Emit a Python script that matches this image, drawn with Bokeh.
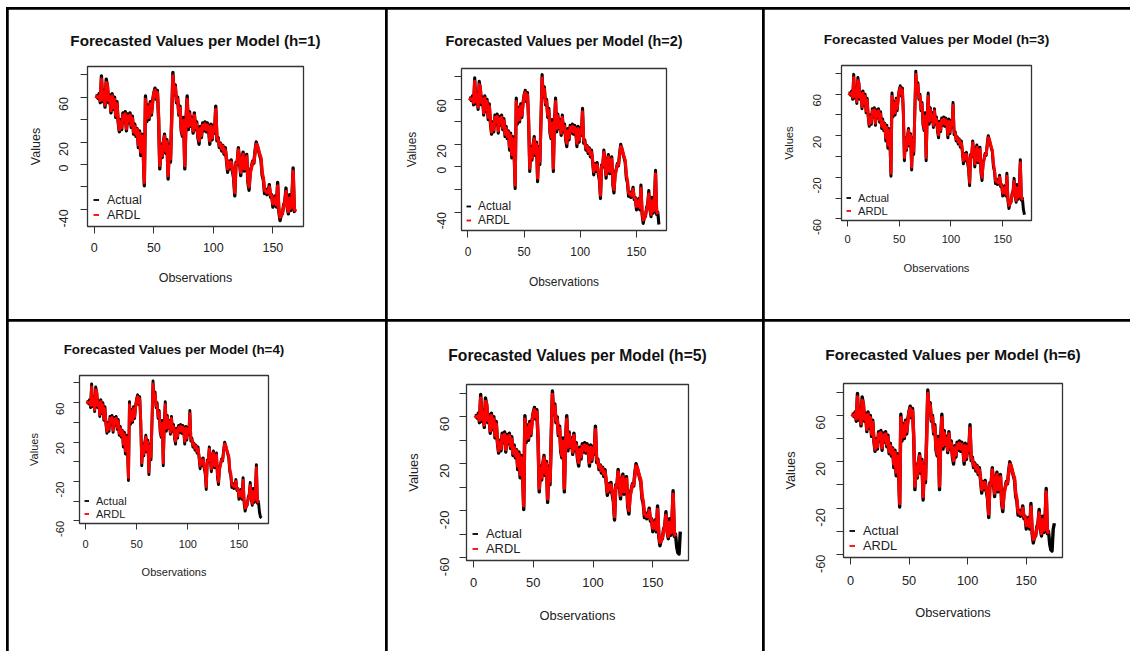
import math
from bokeh.plotting import figure
from bokeh.layouts import row, column
from bokeh.models import Range1d, FixedTicker, Legend, LegendItem
from bokeh.embed import file_html
from bokeh.resources import INLINE

# ---------------- data ----------------
HORIZONS = [1, 2, 3, 4, 5, 6]
SERIES_NAMES = ["Actual", "ARDL"]
TITLE_TEXT = "Forecasted Values per Model (h={})"
X_TITLE = "Observations"
Y_TITLE = "Values"
X_TICKS = [0, 50, 100, 150]
Y_TICKS_SHORT = [-40, -20, 0, 20, 40, 60, 80]
Y_TICKS_LONG = [-60, -40, -20, 0, 20, 40, 60, 80]
Y_LABELS_SHORT = [-40, 0, 20, 60]
Y_LABELS_LONG = [-60, -20, 20, 60]

ACTUAL = [
    61, 61, 59, 63, 55, 79, 56, 66, 51, 76,
    70, 55, 62, 46, 63, 49, 60, 42, 56, 38,
    29, 40, 31, 46, 38, 47, 30, 45, 37, 46,
    33, 43, 27, 36, 25, 32, 15, 30, 8, 27,
    14, -19, 61, 38, 53, 40, 56, 44, 57, 64,
    68, 58, 66, 40, -4, 18, 6, 20, 27, 10,
    22, -13, 18, 2, 42, 82, 62, 71, 55, 60,
    44, 52, 30, 25, 42, -4, 40, 61, 31, 47,
    34, 42, 28, 46, 31, 38, 24, 18, 34, 24,
    37, 30, 38, 29, 37, 31, 18, 36, 22, 35,
    28, 52, 21, 24, 15, 19, 12, 17, 9, 15,
    4, -7, 3, -4, 4, -6, -12, -28, 2, 0,
    15, 2, -10, 6, 11, -6, 4, 9, -16, -23,
    -6, -2, 3, 1, 12, 20, 16, 12, 8, 4,
    -10, -14, -26, -22, -27, -24, -18, -29, -27, -38,
    -33, -28, -38, -16, -42, -50, -45, -44, -36, -33,
    -21, -38, -44, -27, -41, -30, -3, -42, -40, -51,
    -56, -57, -38, -33,
]

ARDL = [
    61, 60, 60, 61, 57, 76, 58, 64, 53, 73,
    71, 57, 60, 48, 61, 51, 58, 44, 54, 40,
    31, 38, 33, 44, 40, 45, 32, 43, 39, 44,
    35, 41, 29, 34, 27, 31, 18, 28, 11, 25,
    16, -16, 58, 41, 51, 42, 54, 46, 55, 63,
    66, 60, 64, 43, -1, 16, 8, 19, 25, 12,
    20, -10, 16, 5, 39, 79, 64, 69, 57, 58,
    46, 50, 33, 27, 39, -1, 37, 58, 34, 45,
    35, 40, 30, 44, 33, 36, 26, 21, 32, 26,
    35, 32, 36, 31, 35, 32, 21, 34, 24, 33,
    30, 49, 24, 22, 17, 18, 14, 16, 11, 13,
    6, -4, 2, -2, 2, -4, -9, -25, 0, 2,
    13, 4, -7, 4, 9, -4, 3, 7, -13, -20,
    -8, -3, 2, 2, 10, 18, 17, 13, 9, 6,
    -7, -12, -23, -24, -25, -25, -20, -27, -28, -35,
    -34, -30, -36, -19, -39, -47, -46, -43, -38, -34,
    -24, -36, -42, -30, -39, -32, -6, -39, -42,
]

# ---------------- layout / style ----------------
CELL_W = [377, 375, 366]
CELL_H = [310, 330]
FONT = "Liberation Sans"
# frame margins inside each cell, scale, and text offsets from the frame
LAYOUT = {
    1: dict(l=79, r=82, t=57, b=93, s=1.00, yl=24, yt=52, xl=22, xt=50, tt=26),
    2: dict(l=74, r=96, t=59, b=89, s=0.95, yl=20, yt=49, xl=22, xt=50, tt=28),
    3: dict(l=77, r=99, t=56, b=99, s=0.90, yl=24, yt=53, xl=20, xt=47, tt=26),
    4: dict(l=71, r=117, t=53, b=128, s=0.88, yl=19, yt=46, xl=21, xt=47, tt=26),
    5: dict(l=79, r=74, t=63, b=91, s=1.03, yl=22, yt=53, xl=23, xt=54, tt=30),
    6: dict(l=79, r=68, t=62, b=94, s=1.02, yl=23, yt=53, xl=24, xt=54, tt=29),
}
NAN = float("nan")


def make_panel(h, ci, ri):
    g = LAYOUT[h]
    s = g["s"]
    fs = 12.5 * s
    tfs = 15.2 * s
    th = 1.0 * fs
    tick = int(round(7 * s))

    n_act = 168 + h
    xa = list(range(1, n_act + 1))
    ya = ACTUAL[:n_act]
    xf = list(range(1, len(ARDL) + 1))
    yf = ARDL
    xmin, xmax = 1, max(n_act, len(ARDL))
    ymin = min(min(ya), min(yf))
    ymax = max(max(ya), max(yf))
    dx = 0.04 * (xmax - xmin)
    dy = 0.04 * (ymax - ymin)

    p = figure(width=CELL_W[ci], height=CELL_H[ri],
               x_range=Range1d(xmin - dx, xmax + dx),
               y_range=Range1d(ymin - dy, ymax + dy),
               output_backend="svg", toolbar_location=None,
               min_border_left=g["l"], min_border_right=g["r"],
               min_border_top=g["t"], min_border_bottom=g["b"],
               frame_align=False,
               background_fill_color="white", border_fill_color="white")
    p.xgrid.visible = False
    p.ygrid.visible = False
    p.outline_line_color = "#333333"
    p.outline_line_width = 1.3

    p.title.text = TITLE_TEXT.format(h)
    p.title.align = "center"
    p.title.text_font = FONT
    p.title.text_font_size = f"{tfs:.1f}px"
    p.title.text_font_style = "bold"
    p.title.text_color = "#111111"
    p.title.standoff = int(round(2 * (g["tt"] - 0.56 * tfs)))

    p.line(xa, ya, color="black", line_width=3.3 * s, line_join="round")
    p.line(xf, yf, color="red", line_width=3.3 * s, line_join="round")

    yticks = Y_TICKS_SHORT if h <= 2 else Y_TICKS_LONG
    shown = Y_LABELS_SHORT if h <= 2 else Y_LABELS_LONG

    for ax in (p.xaxis[0], p.yaxis[0]):
        ax.axis_line_color = "#333333"
        ax.axis_line_width = 1
        ax.major_tick_line_color = "#333333"
        ax.major_tick_in = 0
        ax.major_tick_out = tick
        ax.minor_tick_line_color = None
        ax.major_label_text_font = FONT
        ax.major_label_text_font_size = f"{fs:.1f}px"
        ax.major_label_text_color = "#222222"
        ax.axis_label_text_font = FONT
        ax.axis_label_text_font_size = f"{fs:.1f}px"
        ax.axis_label_text_font_style = "normal"
        ax.axis_label_text_color = "#222222"

    xa_ = p.xaxis[0]
    xa_.ticker = FixedTicker(ticks=X_TICKS)
    xa_.bounds = (X_TICKS[0], X_TICKS[-1])
    xa_.axis_label = X_TITLE
    xa_.major_label_standoff = int(round(g["xl"] - tick - th / 2))
    xa_.axis_label_standoff = int(round(g["xt"] - g["xl"] - th))

    ya_ = p.yaxis[0]
    ya_.ticker = FixedTicker(ticks=yticks)
    ya_.bounds = (yticks[0], yticks[-1])
    ya_.major_label_overrides = {t: (str(t) if t in shown else "") for t in yticks}
    ya_.major_label_orientation = math.pi / 2
    ya_.axis_label = Y_TITLE
    ya_.major_label_standoff = int(round(g["yl"] - tick))
    ya_.axis_label_standoff = max(0, int(round(g["yt"] - g["yl"] - 1.5 * th)))

    ra = p.line([NAN], [NAN], color="black", line_width=1.8)
    rf = p.line([NAN], [NAN], color="red", line_width=1.8)
    leg = Legend(items=[LegendItem(label=SERIES_NAMES[0], renderers=[ra]),
                        LegendItem(label=SERIES_NAMES[1], renderers=[rf])],
                 location=(int(6 * s), int(4 * s)),
                 orientation="vertical",
                 padding=0, margin=0, spacing=0,
                 glyph_width=int(6 * s), glyph_height=int(15 * s),
                 label_height=int(15 * s), label_standoff=int(8 * s),
                 label_text_font=FONT, label_text_font_size=f"{fs:.1f}px",
                 label_text_color="#222222",
                 background_fill_alpha=0, border_line_alpha=0)
    p.add_layout(leg)
    return p


panels = [make_panel(h, (h - 1) % 3, (h - 1) // 3) for h in HORIZONS]
r1 = row(*panels[:3], spacing=2, margin=(2, 0, 0, 2))
r2 = row(*panels[3:], spacing=2, margin=(0, 0, 0, 2))
layout = column(r1, r2, spacing=2, margin=(7, 0, 0, 6),
                styles={"background-color": "black"})

open("out.html", "w").write(file_html(layout, INLINE))
